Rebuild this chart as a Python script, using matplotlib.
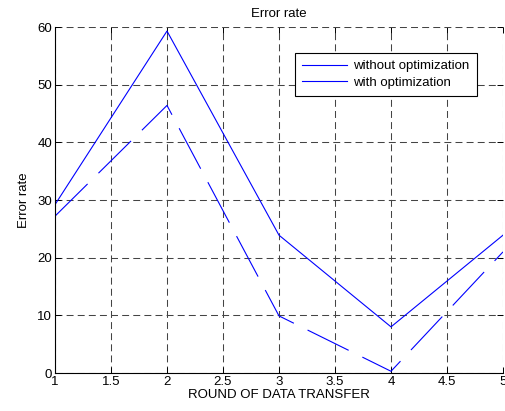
import matplotlib
matplotlib.use("Agg")
import matplotlib.pyplot as plt
from matplotlib.lines import Line2D

plt.rcParams['font.family'] = ['Liberation Sans', 'DejaVu Sans']
plt.rcParams['font.size'] = 9.5
plt.rcParams['lines.scale_dashes'] = False

# Data
rounds = [1, 2, 3, 4, 5]
without_opt = [29.2, 59.3, 23.9, 8.0, 23.9]
with_opt = [27.2, 46.4, 9.9, 0.3, 21.0]

fig = plt.figure(figsize=(5.06, 4.11), dpi=100)
ax = fig.add_axes([55 / 506, 1 - 373 / 411, 448 / 506, 346 / 411])

ax.plot(rounds, without_opt, color='blue', lw=0.8)
ax.plot(rounds, with_opt, color='blue', lw=0.8, dashes=(33, 11))

ax.set_xlim(1, 5)
ax.set_ylim(0, 60)
ax.set_xticks([1, 1.5, 2, 2.5, 3, 3.5, 4, 4.5, 5])
ax.set_xticklabels(['1', '1.5', '2', '2.5', '3', '3.5', '4', '4.5', '5'])
ax.set_yticks(range(0, 61, 10))

ax.grid(True, color='#444444', lw=0.75, dashes=(5, 3))
ax.tick_params(direction='in', top=True, right=True, length=4, width=0.7,
               labelsize=9.5, pad=2)
for side in ['left', 'bottom']:
    ax.spines[side].set_linewidth(0.8)
for side in ['top', 'right']:
    ax.spines[side].set_visible(False)

ax.set_title('Error rate', fontsize=9.5, pad=7)
ax.set_xlabel('ROUND OF DATA TRANSFER', fontsize=9.5, labelpad=1)
ax.set_ylabel('Error rate', fontsize=9.5, labelpad=5)

handles = [Line2D([], [], color='blue', lw=0.8),
           Line2D([], [], color='blue', lw=0.8)]
leg = ax.legend(handles, ['without optimization', 'with optimization'],
                loc='upper right', bbox_to_anchor=(0.942, 0.925),
                fancybox=False, framealpha=1, edgecolor='black',
                handlelength=3.4, handletextpad=0.5, borderpad=0.55,
                borderaxespad=0, labelspacing=0.3, fontsize=9.5)
leg.get_frame().set_linewidth(0.8)

fig.savefig('out.png', dpi=100)
